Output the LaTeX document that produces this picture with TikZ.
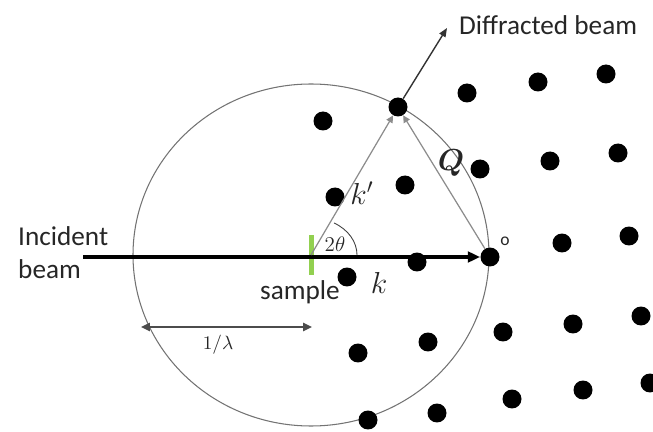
\documentclass[tikz,border=0pt]{standalone}
\usepackage{amsmath}
\usepackage{fontspec}
\setmainfont{Carlito}
\usepackage{xcolor}
\definecolor{colSample}{HTML}{92D050}
\colorlet{colRay}{black!45}
\colorlet{colSphere}{black!55}
\colorlet{colText}{black!85}
\usepackage{tikz}
\usetikzlibrary{arrows.meta, positioning, calc}

\begin{document}
\begin{tikzpicture}[x=0.02cm, y=-0.02cm,
		dot/.style={circle, fill=black, inner sep=0pt, minimum size=0.38cm},
		ray/.style={colRay, line width=0.7pt, -{Triangle[length=4pt,width=4pt]}},
		lbl/.style={text=colText, font=\fontsize{15.5}{18.7}\selectfont},
		sym/.style={text=colText, font=\fontsize{17}{20}\selectfont}]
	\useasboundingbox (0,0) rectangle (653,432);
	% Ewald sphere
	\draw[colSphere, line width=0.6pt] (311,255) ellipse [x radius=178, y radius=171];
	% reciprocal lattice
	\foreach \px/\py in {323/121, 467/93, 538/82, 606/74, 335/197, 405/185, 480/169, 550/161, 618/153,
			417/262, 347/277, 562/243, 629/236, 358/353, 428/342, 503/332, 573/324, 641/316,
			368/420, 437/413, 512/399, 583/390, 650/383}
		\node[dot] at (\px,\py) {};
	\node[dot] (g) at (398,107) {};
	\node[dot] (o) at (490,257) {};
	\node[text=colText, font=\fontsize{10}{12}\selectfont] at (505,241) {o};
	% sample
	\node[fill=colSample, inner sep=0pt, minimum width=0.1cm, minimum height=0.8cm] (sample) at (311,255) {};
	\node[lbl] at (300,292) {sample};
	% incident beam
	\coordinate (src) at (83,257);
	\draw[line width=2pt, -{Triangle[length=7pt,width=6pt]}] (src) -- (o);
	\node[lbl, align=left, anchor=west] at (12,253) {Incident\\beam};
	% k' and Q
	\draw[ray] (sample.center) -- (g);
	\draw[ray] (o) -- (g);
	\draw[black!75, line width=0.5pt] (sample.center) ++(46,0) arc[start angle=0, end angle=-60, x radius=46, y radius=37];
	\node[text=colText, font=\fontsize{11.5}{13}\selectfont] at (335,244) {$2\theta$};
	\node[sym] at (362,193) {$k'$};
	\node[sym, font=\fontsize{18}{20}\selectfont] at (451,163) {$\boldsymbol{Q}$};
	\node[sym] at (379,283) {$k$};
	% diffracted beam
	\coordinate (tip) at (447,28);
	\draw[black!80, line width=0.8pt, -{Triangle[length=5pt,width=4pt]}] (g) -- (tip);
	\node[lbl, anchor=west] at (453,25) {Diffracted beam};
	% 1/lambda
	\coordinate (la) at (141,327);
	\coordinate (lb) at (312,327);
	\draw[black!70, line width=1.2pt, {Triangle[length=5pt,width=4.5pt]}-{Triangle[length=5pt,width=4.5pt]}] (la) -- (lb);
	\node[text=colText, font=\fontsize{11}{12}\selectfont] at (218,345) {$1/\lambda$};
\end{tikzpicture}
\end{document}
